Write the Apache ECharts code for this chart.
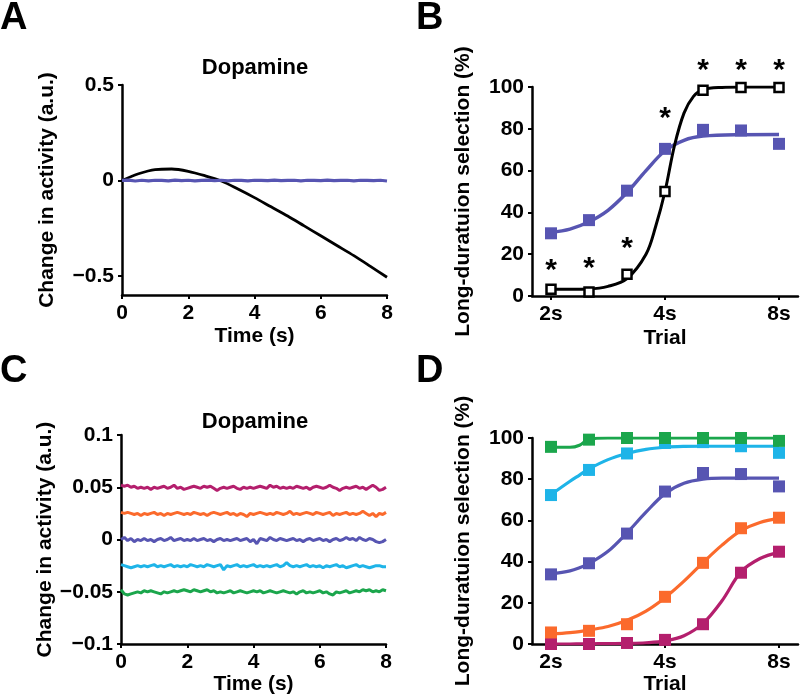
<!DOCTYPE html>
<html><head><meta charset="utf-8">
<script src="https://cdn.jsdelivr.net/npm/echarts@6/dist/echarts.min.js"></script>
<style>html,body{margin:0;padding:0;background:#fff}#c{width:800px;height:696px}</style>
</head><body><div id="c"></div>
<script>
// ---------- Panel A ----------
const timeA = [0,0.5,1,1.5,2,2.5,3,3.5,4,4.5,5,5.5,6,6.5,7,7.5,8];
const blackA = [0,0.035,0.057,0.06,0.048,0.025,-0.003,-0.045,-0.09,-0.138,-0.186,-0.238,-0.29,-0.342,-0.394,-0.45,-0.507];
const stepBlueA = 0.2;
const blueA = [0,0.002,-0.003,0.001,-0.002,0.001,0,-0.002,0.002,-0.001,0.001,-0.002,0,0.002,-0.001,0.001,-0.002,0.001,0,-0.002,0.001,0,-0.001,0.002,-0.001,0,0.001,-0.002,0.001,0,-0.001,0.002,-0.001,0,0.001,-0.002,0.001,0,-0.001,0.001,-0.003];
const yTicksA = [-0.5,0,0.5];
const xTicksTime = [0,2,4,6,8];

// ---------- Panel B ----------
const trialIdx = [0,1,2,3,4,5,6];
const trialTickIdx = [0,3,6];
const trialTickLabels = ['2s','4s','8s'];
const blackB = [3.2,1.9,10.4,50,98.4,99.8,99.8];
const blueB = [30,36.3,50.4,70.4,79.5,79.2,72.8];
const fitXB = [0,1,1.5,2,2.5,2.75,3,3.25,3.5,3.75,4,4.5,5,6];
const blackFitB = [3.2,3.4,4.6,8.3,20,33,50,72,87.5,95.5,98.7,99.8,100,100];
const fitXB2 = [0,0.5,1,1.5,2,2.5,3,3.5,4,5,6];
const blueFitB = [30.5,32,35.5,41,49.5,60,69.5,74.5,76.5,77.2,77.3];
const starIdxB = [0,1,2,3,4,5,6];
const starYB = [15.5,16.3,26,88,111,111,111];

// ---------- Panel C ----------
const stepC = 0.1;
const magentaC = [0.052,0.051,0.052,0.050,0.051,0.049,0.050,0.049,0.050,0.048,0.050,0.049,0.050,0.051,0.049,0.050,0.052,0.049,0.050,0.048,
0.049,0.050,0.051,0.050,0.049,0.051,0.050,0.051,0.049,0.047,0.049,0.050,0.049,0.050,0.051,0.049,0.048,0.050,0.049,0.050,
0.049,0.050,0.051,0.050,0.049,0.052,0.050,0.051,0.049,0.050,0.049,0.050,0.049,0.051,0.050,0.049,0.050,0.048,0.050,0.051,
0.050,0.049,0.050,0.052,0.050,0.049,0.047,0.049,0.050,0.049,0.050,0.051,0.049,0.050,0.048,0.050,0.052,0.050,0.047,0.048,0.050];
const orangeC = [0.026,0.025,0.026,0.025,0.024,0.025,0.023,0.025,0.024,0.025,0.026,0.024,0.025,0.023,0.025,0.024,0.025,0.026,0.025,0.024,
0.025,0.024,0.026,0.025,0.024,0.025,0.023,0.025,0.026,0.025,0.024,0.025,0.026,0.024,0.025,0.023,0.025,0.024,0.022,0.025,
0.024,0.025,0.026,0.025,0.024,0.025,0.024,0.026,0.025,0.024,0.025,0.027,0.024,0.025,0.024,0.025,0.026,0.025,0.024,0.026,
0.025,0.024,0.025,0.026,0.023,0.025,0.024,0.025,0.026,0.024,0.025,0.024,0.025,0.027,0.025,0.023,0.025,0.022,0.025,0.024,0.026];
const purpleC = [0.000,0.002,-0.001,0.001,-0.002,0.000,-0.001,0.001,-0.001,0.000,-0.002,0.000,0.001,-0.001,0.000,0.002,-0.001,0.000,0.001,-0.001,
0.000,-0.001,0.001,-0.001,0.000,0.001,-0.001,0.000,-0.002,0.000,0.001,-0.001,0.000,-0.001,0.000,0.001,-0.001,0.000,0.001,-0.002,
0.000,-0.004,0.001,0.000,-0.001,0.002,0.000,-0.001,0.001,0.000,-0.001,0.000,0.001,-0.001,0.000,-0.002,0.000,0.001,-0.001,0.000,
0.001,-0.001,0.000,-0.002,0.000,0.001,-0.001,0.000,0.002,0.000,0.001,-0.001,0.002,0.000,-0.001,0.001,0.000,-0.002,-0.003,-0.002,0.000];
const cyanC = [-0.024,-0.025,-0.026,-0.027,-0.026,-0.025,-0.026,-0.025,-0.026,-0.025,-0.024,-0.026,-0.025,-0.026,-0.025,-0.024,-0.026,-0.025,-0.026,-0.025,
-0.026,-0.024,-0.025,-0.026,-0.025,-0.026,-0.024,-0.025,-0.026,-0.025,-0.024,-0.029,-0.025,-0.026,-0.025,-0.024,-0.026,-0.025,-0.026,-0.025,
-0.024,-0.026,-0.025,-0.026,-0.025,-0.026,-0.025,-0.024,-0.026,-0.025,-0.022,-0.025,-0.026,-0.025,-0.026,-0.025,-0.024,-0.026,-0.025,-0.026,
-0.025,-0.027,-0.025,-0.026,-0.025,-0.024,-0.026,-0.025,-0.027,-0.026,-0.025,-0.024,-0.026,-0.025,-0.026,-0.027,-0.026,-0.025,-0.025,-0.026,-0.026];
const greenC = [-0.048,-0.052,-0.053,-0.052,-0.051,-0.050,-0.051,-0.049,-0.050,-0.049,-0.050,-0.051,-0.052,-0.050,-0.051,-0.050,-0.049,-0.050,-0.049,-0.048,
-0.049,-0.050,-0.048,-0.049,-0.050,-0.049,-0.048,-0.050,-0.049,-0.051,-0.050,-0.051,-0.050,-0.049,-0.051,-0.050,-0.049,-0.050,-0.051,-0.050,
-0.049,-0.050,-0.049,-0.051,-0.050,-0.049,-0.050,-0.051,-0.050,-0.049,-0.050,-0.051,-0.050,-0.052,-0.050,-0.049,-0.051,-0.050,-0.051,-0.050,
-0.049,-0.051,-0.050,-0.052,-0.053,-0.050,-0.051,-0.050,-0.049,-0.051,-0.050,-0.049,-0.050,-0.048,-0.049,-0.048,-0.050,-0.049,-0.050,-0.048,-0.049];

// ---------- Panel D ----------
const greenD = [95.7,99.2,100,100,100,100,98.6];
const cyanD = [72.3,84.5,92.5,97.6,98,96,92.8];
const purpleD = [33.8,39.2,53.6,74,83,82.5,76.5];
const orangeD = [5.6,6.4,9.6,22.9,39.4,56.2,61.3];
const magentaD = [0,0,0.5,2,9.6,34.6,44.8];
const fitXD = [0,0.5,0.75,1,1.5,2,2.5,3,3.5,4,4.5,5,5.5,6];
const greenFitD = [95.5,95.5,96.5,99.4,100,100,100,100,100,100,100,100,100,100];
const cyanFitD = [72.5,79,82,85,89.5,92.5,94.5,95.5,95.9,96,96,96,96,96];
const purpleFitD = [34,35.5,37,39,45,54,64,73,78,80,80.5,80.5,80.5,80.5];
const orangeFitD = [4.8,5.5,6,6.8,8.5,11.5,16,22.5,30.5,39.5,48,55,59,61];
const magentaFitD = [0,0,0.05,0.1,0.2,0.3,0.6,1.5,4,10,21,35,41.5,44.5];

const C_BLUE = '#5755b2', C_MAG = '#b41f6d', C_ORA = '#fb6a2c', C_CYA = '#1eb4e8', C_GRN = '#1ba64c';
const FF = '"Liberation Sans", Arial, sans-serif';

const zip = (xs, ys) => ys.map((y, i) => [xs[i], y]);
const stepZip = (step, ys) => ys.map((y, i) => [Math.round(i * step * 1000) / 1000, y]);
const minus = v => (v < 0 ? '\u2212' + String(Math.abs(v)) : String(v));

function baseAxis() {
  return {
    axisLine: { show: true, onZero: false, lineStyle: { color: '#000', width: 2.5 } },
    axisTick: { show: true, length: 4, lineStyle: { color: '#000', width: 2 } },
    splitLine: { show: false },
    axisLabel: { color: '#000', fontSize: 21, fontWeight: 'bold', fontFamily: FF, margin: 8 },
    nameTextStyle: { color: '#000', fontSize: 21, fontWeight: 'bold', fontFamily: FF },
    nameLocation: 'middle'
  };
}
function timeX(gi, gap) {
  const a = baseAxis();
  return Object.assign(a, { type: 'value', gridIndex: gi, min: 0, max: 8, interval: 2, name: 'Time (s)', nameGap: gap });
}
function trialX(gi, gap) {
  const a = baseAxis();
  a.axisLabel.customValues = trialTickIdx;
  a.axisLabel.formatter = v => trialTickLabels[trialTickIdx.indexOf(Math.round(v))] || '';
  a.axisTick.customValues = trialTickIdx;
  return Object.assign(a, { type: 'value', gridIndex: gi, min: -0.5, max: 6.5, name: 'Trial', nameGap: gap });
}
function pctY(gi) {
  const a = baseAxis();
  return Object.assign(a, { type: 'value', gridIndex: gi, min: 0, max: 100, interval: 20,
    name: 'Long-duratuion selection (%)', nameGap: 58 });
}

const yA = baseAxis();
yA.axisLabel.customValues = yTicksA;
yA.axisLabel.formatter = minus;
yA.axisTick.customValues = yTicksA;
Object.assign(yA, { type: 'value', gridIndex: 0, min: -0.6, max: 0.5, name: 'Change in activity (a.u.)', nameGap: 64 });

const yC = baseAxis();
yC.axisLabel.formatter = v => minus(Math.round(v * 1000) / 1000);
Object.assign(yC, { type: 'value', gridIndex: 2, min: -0.1, max: 0.1, interval: 0.05, name: 'Change in activity (a.u.)', nameGap: 64 });

function fitLine(xi, yi, xs, ys, color, w) {
  return { type: 'line', xAxisIndex: xi, yAxisIndex: yi, data: zip(xs, ys), smooth: 0.35, showSymbol: false,
    lineStyle: { color, width: w }, silent: true, z: 2 };
}
function markers(xi, yi, ys, color, size, hollow) {
  return { type: 'scatter', xAxisIndex: xi, yAxisIndex: yi, data: zip(trialIdx, ys), symbol: 'rect', symbolSize: size,
    itemStyle: hollow ? { color: '#fff', borderColor: color, borderWidth: 2.5, opacity: 1 } : { color, opacity: 1 }, z: 3 };
}
function noisy(xi, yi, step, ys, color, w) {
  return { type: 'line', xAxisIndex: xi, yAxisIndex: yi, data: stepZip(step, ys), showSymbol: false,
    lineStyle: { color, width: w }, silent: true };
}

const series = [
  // A
  { type: 'line', xAxisIndex: 0, yAxisIndex: 0, data: zip(timeA, blackA), smooth: 0.3, showSymbol: false, lineStyle: { color: '#000', width: 2.8 } },
  noisy(0, 0, stepBlueA, blueA, C_BLUE, 3.2),
  // B
  fitLine(1, 1, fitXB2, blueFitB, C_BLUE, 3.5),
  markers(1, 1, blueB, C_BLUE, 12, false),
  fitLine(1, 1, fitXB, blackFitB, '#000', 3),
  markers(1, 1, blackB, '#000', 9, true),
  { type: 'scatter', xAxisIndex: 1, yAxisIndex: 1, data: zip(starIdxB, starYB), symbol: 'rect', symbolSize: 0, clip: false,
    itemStyle: { opacity: 1 },
    label: { show: true, position: 'inside', formatter: '*', fontSize: 30, fontWeight: 'bold', fontFamily: FF, color: '#000', offset: [0, 7] }, z: 5 },
  // C
  noisy(2, 2, stepC, magentaC, C_MAG, 3),
  noisy(2, 2, stepC, orangeC, C_ORA, 3),
  noisy(2, 2, stepC, purpleC, C_BLUE, 3),
  noisy(2, 2, stepC, cyanC, C_CYA, 3),
  noisy(2, 2, stepC, greenC, C_GRN, 3),
  // D
  fitLine(3, 3, fitXD, magentaFitD, C_MAG, 3.2),
  markers(3, 3, magentaD, C_MAG, 12, false),
  fitLine(3, 3, fitXD, orangeFitD, C_ORA, 3.2),
  markers(3, 3, orangeD, C_ORA, 12, false),
  fitLine(3, 3, fitXD, purpleFitD, C_BLUE, 3.2),
  markers(3, 3, purpleD, C_BLUE, 12, false),
  fitLine(3, 3, fitXD, cyanFitD, C_CYA, 3.2),
  markers(3, 3, cyanD, C_CYA, 12, false),
  fitLine(3, 3, fitXD, greenFitD, C_GRN, 3.2),
  markers(3, 3, greenD, C_GRN, 12, false)
];

function txt(text, x, y, size, align) {
  return { type: 'text', x, y, style: { text, fontSize: size, fontWeight: 'bold', fontFamily: FF, fill: '#000',
    textAlign: align, textVerticalAlign: 'middle' } };
}

const chart = echarts.init(document.getElementById('c'), null, { renderer: 'canvas' });
chart.setOption({
  animation: false,
  backgroundColor: '#fff',
  grid: [
    { left: 122, top: 85, width: 265, height: 210 },
    { left: 532, top: 87, width: 266, height: 209 },
    { left: 121, top: 435, width: 265, height: 212 },
    { left: 532, top: 438, width: 266, height: 208 }
  ],
  xAxis: [timeX(0, 31), trialX(1, 32), timeX(2, 25), trialX(3, 30)],
  yAxis: [yA, pctY(1), yC, pctY(3)],
  series,
  graphic: [
    txt('A', 0, 19, 38, 'left'),
    txt('B', 416, 19, 38, 'left'),
    txt('C', 0, 372, 38, 'left'),
    txt('D', 416, 372, 38, 'left'),
    txt('Dopamine', 255, 68, 22, 'center'),
    txt('Dopamine', 255, 422, 22, 'center')
  ]
});
</script>
</body></html>
